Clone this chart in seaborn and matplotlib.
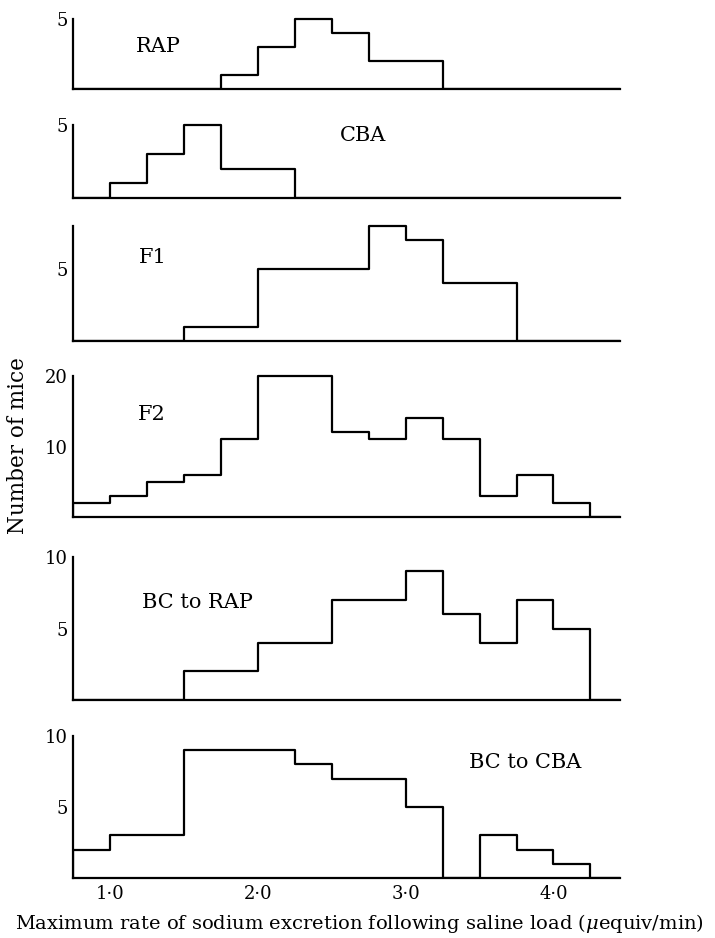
import numpy as np
import pandas as pd
import matplotlib
matplotlib.use("Agg")
import matplotlib.pyplot as plt
import seaborn as sns

# ---- data -------------------------------------------------------------
bin_edges = [0.75, 1.0, 1.25, 1.5, 1.75, 2.0, 2.25, 2.5, 2.75, 3.0, 3.25, 3.5, 3.75, 4.0, 4.25]
rap_counts       = [0, 0, 0, 0, 1, 3, 5, 4, 2, 2, 0, 0, 0, 0]
cba_counts       = [0, 1, 3, 5, 2, 2, 0, 0, 0, 0, 0, 0, 0, 0]
f1_counts        = [0, 0, 0, 1, 1, 5, 5, 5, 8, 7, 4, 4, 0, 0]
f2_counts        = [2, 3, 5, 6, 11, 20, 20, 12, 11, 14, 11, 3, 6, 2]
bc_rap_counts    = [0, 0, 0, 2, 2, 4, 4, 7, 7, 9, 6, 4, 7, 5]
bc_cba_counts    = [2, 3, 3, 9, 9, 9, 8, 7, 7, 5, 0, 3, 2, 1]

panel_names = ["RAP", "CBA", "F1", "F2", "BC to RAP", "BC to CBA"]
panel_counts = [rap_counts, cba_counts, f1_counts, f2_counts, bc_rap_counts, bc_cba_counts]
y_tops = [5, 5, 8, 20, 10, 10]
y_ticks = [[5], [5], [5], [10, 20], [5, 10], [5, 10]]
x_ticks = [1.0, 2.0, 3.0, 4.0]
x_tick_labels = ["1·0", "2·0", "3·0", "4·0"]
x_label = "Maximum rate of sodium excretion following saline load ($\\mu$equiv/min)"
y_label = "Number of mice"

# ---- layout (pixel positions in a 715x938 canvas) ---------------------
W, H = 715, 938
x_left_px, x_right_px = 73, 620
x_lim = (0.75, 4.45)
panel_px = [(19, 89), (125, 198), (226, 341), (376, 517), (557, 700), (736, 878)]
label_pos = [(1.33, 3.0), (2.71, 4.3), (1.29, 5.8), (1.28, 14.5), (1.59, 6.8), (3.81, 8.1)]
top_margin = 0.04  # fraction of y range above the top tick, so top lines are not clipped

sns.set_style("white")
plt.rcParams["font.family"] = ["DejaVu Serif"]
plt.rcParams["mathtext.fontset"] = "dejavuserif"
for k in ("text.color", "axes.labelcolor", "xtick.color", "ytick.color", "axes.edgecolor"):
    plt.rcParams[k] = "black"

fig = plt.figure(figsize=(W / 100, H / 100), dpi=100)
# pad one empty bin on each side so every outline closes down to the baseline
w = bin_edges[1] - bin_edges[0]
edges_p = [bin_edges[0] - w] + list(bin_edges) + [bin_edges[-1] + w]
centers = [(a + b) / 2 for a, b in zip(edges_p[:-1], edges_p[1:])]
lw = 1.6

for i, (name, counts, top, yt, (ptop, pbot), (lx, ly)) in enumerate(
        zip(panel_names, panel_counts, y_tops, y_ticks, panel_px, label_pos)):
    h_px = (pbot - ptop) * (1 + top_margin)
    ax = fig.add_axes([x_left_px / W, 1 - pbot / H,
                       (x_right_px - x_left_px) / W, h_px / H])
    df = pd.DataFrame({"x": centers, "n": [0] + list(counts) + [0]})
    sns.histplot(data=df, x="x", weights="n", bins=edges_p, element="step",
                 fill=False, color="black", linewidth=lw, ax=ax)
    ax.set_xlim(*x_lim)
    ax.set_ylim(0, top * (1 + top_margin))
    ax.set_xlabel("")
    ax.set_ylabel("")
    for s in ("top", "right"):
        ax.spines[s].set_visible(False)
    for s in ("left", "bottom"):
        ax.spines[s].set_linewidth(lw)
        ax.spines[s].set_color("black")
    ax.spines["left"].set_bounds(0, top)
    ax.set_yticks(yt)
    ax.set_yticklabels([str(v) for v in yt], fontsize=13)
    ax.set_xticks(x_ticks)
    if i == len(panel_names) - 1:
        ax.set_xticklabels(x_tick_labels, fontsize=13)
    else:
        ax.set_xticklabels([])
    ax.tick_params(axis="x", direction="in", length=7, width=1.3, pad=5)
    ax.tick_params(axis="y", direction="in", length=6, width=1.3, pad=4)
    ax.patch.set_alpha(0)
    ax.text(lx, ly, name, fontsize=15, ha="center", va="center")

fig.text(18 / W, 1 - 446 / H, y_label, rotation=90, ha="center", va="center", fontsize=15.5)
fig.text(0.5 * (5 + 713) / W, 1 - 923 / H, x_label, ha="center", va="center", fontsize=14)

fig.savefig("out.png", dpi=100, facecolor="white")
